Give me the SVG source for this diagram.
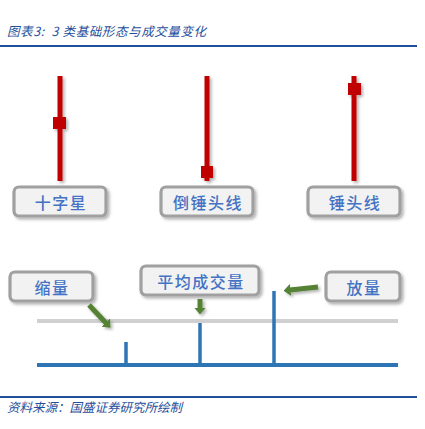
<svg xmlns="http://www.w3.org/2000/svg" width="425" height="429" viewBox="0 0 425 429">
<defs>
<style>
.cap{font-family:"Noto Sans CJK SC","Liberation Serif",serif;font-style:italic;fill:#1f4e9b;font-size:12.5px}
.lbl{font-family:"Noto Sans CJK SC",sans-serif;font-weight:500;fill:#4472c4;font-size:16px;letter-spacing:1.5px;text-anchor:middle;dominant-baseline:central}
.box{fill:#f2f2f2;stroke:#a0a0a0;stroke-width:3.2}
.wick{stroke:#c00000;stroke-width:5}
.body{fill:#c00000}
.vol{stroke:#2e75b6;stroke-width:3.5}
.arr{stroke:#548235;stroke-width:5;fill:none}
</style>
<filter id="sh" x="-20%" y="-30%" width="150%" height="180%">
<feDropShadow dx="2" dy="2" stdDeviation="1.5" flood-color="#000" flood-opacity="0.3"/>
</filter>
<marker id="ah" viewBox="0 0 7 12" refX="0.5" refY="6" markerUnits="userSpaceOnUse" markerWidth="7" markerHeight="12" orient="auto">
<path d="M0,0 L7,6 L0,12 z" fill="#548235"/>
</marker>
</defs>
<rect width="425" height="429" fill="#fff"/>
<text class="cap" x="7" y="36" xml:space="preserve" letter-spacing="0.6">图表3:  3 类基础形态与成交量变化</text>
<line x1="0" y1="46" x2="417" y2="46" stroke="#1f4e9b" stroke-width="2"/>

<g id="candle-doji" filter="url(#sh)">
<line class="wick" x1="60" y1="76" x2="60" y2="181"/>
<rect class="body" x="53" y="117" width="13" height="12"/>
</g>
<g id="candle-inverted-hammer" filter="url(#sh)">
<line class="wick" x1="207" y1="76" x2="207" y2="181"/>
<rect class="body" x="201" y="166" width="12" height="12"/>
</g>
<g id="candle-hammer" filter="url(#sh)">
<line class="wick" x1="354" y1="76" x2="354" y2="181"/>
<rect class="body" x="348" y="83" width="13" height="12"/>
</g>

<g id="label-doji">
<rect class="box" x="14" y="187" width="92" height="29" rx="5" filter="url(#sh)"/>
<text class="lbl" x="61" y="202">十字星</text>
</g>
<g id="label-inverted-hammer">
<rect class="box" x="161" y="187" width="92" height="29" rx="5" filter="url(#sh)"/>
<text class="lbl" x="208" y="202">倒锤头线</text>
</g>
<g id="label-hammer">
<rect class="box" x="308" y="187" width="92" height="29" rx="5" filter="url(#sh)"/>
<text class="lbl" x="355" y="202">锤头线</text>
</g>

<g id="volume-chart">
<line x1="37" y1="321" x2="398" y2="321" stroke="#d0d0d0" stroke-width="4"/>
<line x1="37" y1="365" x2="398" y2="365" stroke="#2e75b6" stroke-width="4"/>
<line class="vol" x1="126" y1="342" x2="126" y2="365"/>
<line class="vol" x1="200" y1="323" x2="200" y2="365"/>
<line class="vol" x1="274" y1="291" x2="274" y2="365"/>
</g>

<g id="label-shrink">
<rect class="box" x="10" y="272" width="83" height="29" rx="5" filter="url(#sh)"/>
<text class="lbl" x="52" y="287">缩量</text>
</g>
<g id="label-avg">
<rect class="box" x="141" y="266" width="118" height="29" rx="5" filter="url(#sh)"/>
<text class="lbl" x="201" y="281">平均成交量</text>
</g>
<g id="label-expand">
<rect class="box" x="326" y="272" width="74" height="29" rx="5" filter="url(#sh)"/>
<text class="lbl" x="364" y="287">放量</text>
</g>

<g id="connectors" filter="url(#sh)">
<line class="arr" x1="89" y1="305" x2="106" y2="323" marker-end="url(#ah)"/>
<line class="arr" x1="200" y1="299" x2="200" y2="308" marker-end="url(#ah)"/>
<line class="arr" x1="318" y1="287" x2="290" y2="290" marker-end="url(#ah)"/>
</g>

<line x1="0" y1="397" x2="417" y2="397" stroke="#1f4e9b" stroke-width="2"/>
<text class="cap" x="7" y="412">资料来源：国盛证券研究所绘制</text>
</svg>
